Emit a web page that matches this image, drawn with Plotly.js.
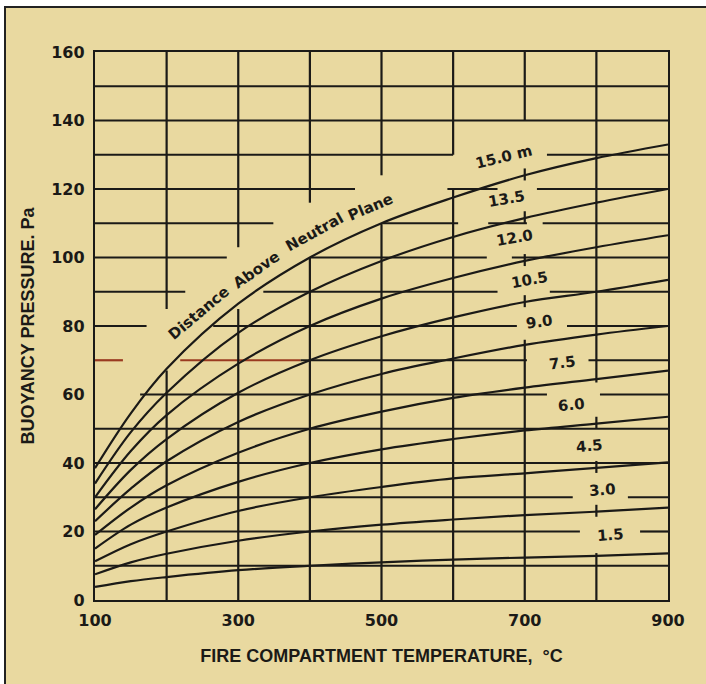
<!DOCTYPE html>
<html><head><meta charset="utf-8">
<script src="https://cdn.plot.ly/plotly-3.0.1.min.js"></script>
<style>
html,body{margin:0;padding:0;background:#fff;width:706px;height:684px;overflow:hidden}
#frame{position:absolute;left:4px;top:6px;width:702px;height:678px;border-left:2px solid #222;border-top:2px solid #222;box-sizing:border-box;background:#E9D9A0}
#chart{width:700px;height:676px}
</style></head><body><div id="frame"><div id="chart"></div></div>
<script>
// ---- data ----
const temps = [100, 150, 200, 300, 400, 500, 600, 700, 800, 900];   // °C
const heightLabels = ['1.5', '3.0', '4.5', '6.0', '7.5', '9.0', '10.5', '12.0', '13.5', '15.0 m'];
const p1_5  = [3.8, 5.5, 6.7, 8.7, 10, 11, 11.8, 12.4, 12.9, 13.6];
const p3_0  = [7.5, 11, 13.5, 17.3, 20, 22, 23.5, 24.8, 25.8, 27];
const p4_5  = [11.3, 16.3, 20, 26, 30, 33, 35.5, 37, 38.6, 40.2];
const p6_0  = [15, 22, 27, 34.5, 40, 44, 47, 49.5, 51.5, 53.5];
const p7_5  = [19, 27, 33.5, 43, 50, 55, 59, 62, 64.5, 67];
const p9_0  = [23, 32.5, 40.5, 52, 60, 66, 70.5, 74.5, 77.5, 80];
const p10_5 = [26.5, 38, 47, 60.5, 70, 77, 82.5, 87, 90, 93.5];
const p12_0 = [30, 43.5, 54, 69, 80, 88, 94, 99, 103, 106.5];
const p13_5 = [34, 49, 60.5, 78, 90, 99, 106, 111.5, 116, 120];
const p15_0 = [38.5, 54.5, 67.5, 86.5, 100, 110, 117.5, 124, 129, 133];
const xTickVals = [100, 300, 500, 700, 900];
const yTickVals = [0, 20, 40, 60, 80, 100, 120, 140, 160];
const xTitle = 'FIRE COMPARTMENT TEMPERATURE,  °C';
const yTitle = 'BUOYANCY PRESSURE. Pa';
const noteWords = ['Distance', 'Above', 'Neutral', 'Plane'];

const series = [p1_5, p3_0, p4_5, p6_0, p7_5, p9_0, p10_5, p12_0, p13_5, p15_0];

// ---- styling / layout helpers ----
const INK = '#1b1a17';
const LW = 2.2;
const tickFont = {family: 'DejaVu Sans', size: 16, color: INK, weight: 'bold'};
const labelFont = {family: 'DejaVu Sans', size: 15, color: INK, weight: 'bold'};
const noteFont = {family: 'DejaVu Sans', size: 15, color: INK, weight: 'bold'};
const titleFont = {family: 'Liberation Sans', size: 18, color: INK, weight: 'bold'};

// broken gridlines of the original drawing (value, [from,to] segments)
const hGrid = [
  [150, [[100, 900]]], [140, [[100, 900]]],
  [130, [[100, 600], [731, 900]]],
  [120, [[100, 463], [592, 662], [717, 900]]],
  [110, [[100, 349], [502, 607], [649, 703], [725, 900]]],
  [100, [[100, 284], [400, 647], [682, 900]]],
  [90,  [[100, 226], [335, 662], [735, 900]]],
  [80,  [[100, 172], [265, 689], [759, 900]]],
  [70,  [[100, 139, 'r'], [219, 387, 'r'], [387, 703], [789, 900]]],
  [60,  [[163, 731], [805, 900]]],
  [50,  [[100, 900]]], [40, [[100, 900]]],
  [30,  [[100, 767], [844, 900]]],
  [20,  [[100, 777], [861, 900]]],
  [10,  [[100, 900]]]
];
const vGrid = [
  [200, [[0, 67], [85, 160]]],
  [300, [[0, 85], [103, 160]]],
  [400, [[0, 100], [116, 160]]],
  [500, [[0, 110], [124, 160]]],
  [600, [[0, 120], [130, 160]]],
  [700, [[0, 76], [140, 160]]],
  [800, [[0, 13.7], [63.5, 160]]]
];

const shapes = [];
hGrid.forEach(([v, segs]) => segs.forEach(s => shapes.push({
  type: 'line', xref: 'x', yref: 'y', x0: s[0], x1: s[1], y0: v, y1: v, layer: 'below',
  line: {color: s[2] === 'r' ? '#9a3a20' : INK, width: LW}
})));
vGrid.forEach(([v, segs]) => segs.forEach(s => shapes.push({
  type: 'line', xref: 'x', yref: 'y', x0: v, x1: v, y0: s[0], y1: s[1], layer: 'below',
  line: {color: INK, width: LW}
})));
// short cross-ticks where curves cross the broken verticals
const i700 = temps.indexOf(700), i800 = temps.indexOf(800);
[p10_5, p12_0, p13_5, p15_0].forEach(arr => shapes.push({
  type: 'line', xref: 'x', yref: 'y', x0: 700, x1: 700, y0: arr[i700] - 1.5, y1: arr[i700] + 2,
  line: {color: INK, width: LW}
}));
[p3_0, p4_5, p6_0].forEach(arr => shapes.push({
  type: 'line', xref: 'x', yref: 'y', x0: 800, x1: 800, y0: arr[i800] - 1.5, y1: arr[i800] + 2,
  line: {color: INK, width: LW}
}));

const traces = series.map((arr, i) => ({
  type: 'scatter', mode: 'lines', x: temps, y: arr, name: heightLabels[i],
  line: {color: INK, width: LW, shape: 'spline', smoothing: 1}, hoverinfo: 'skip'
}));

// label positions (data coords) and tilt
const labelPos = [
  [820, 19, -4], [808, 32.1, -4], [790, 45, -5], [765, 56.9, -6], [752, 69.2, -7],
  [721, 81.2, -8], [707, 93.4, -10], [685, 105.7, -10], [674, 117.1, -10], [671, 129.3, -14]
];
const annotations = heightLabels.map((t, i) => ({
  text: t, x: labelPos[i][0], y: labelPos[i][1], xref: 'x', yref: 'y',
  textangle: labelPos[i][2], showarrow: false, font: labelFont,
  xanchor: 'center', yanchor: 'middle'
}));
const notePos = [[245, 83.8, -40], [325, 96.4, -35], [407, 107.4, -29], [485, 114.7, -23]];
noteWords.forEach((w, i) => annotations.push({
  text: w, x: notePos[i][0], y: notePos[i][1], xref: 'x', yref: 'y',
  textangle: notePos[i][2], showarrow: false, font: noteFont,
  xanchor: 'center', yanchor: 'middle'
}));

const layout = {
  width: 700, height: 676,
  margin: {l: 89, r: 38, t: 44, b: 84},
  paper_bgcolor: 'rgba(0,0,0,0)', plot_bgcolor: 'rgba(0,0,0,0)',
  showlegend: false,
  xaxis: {
    range: [100, 900], tickvals: xTickVals, ticktext: xTickVals.map(String),
    showgrid: false, zeroline: false, showline: true, mirror: true,
    linecolor: INK, linewidth: LW, ticks: '', tickfont: tickFont, ticklabelstandoff: 5,
    title: {text: xTitle, font: titleFont, standoff: 20}
  },
  yaxis: {
    range: [0, 160], tickvals: yTickVals, ticktext: yTickVals.map(String),
    showgrid: false, zeroline: false, showline: true, mirror: true,
    linecolor: INK, linewidth: LW, ticks: '', tickfont: tickFont, ticklabelstandoff: 5,
    title: {text: yTitle, font: titleFont, standoff: 12}
  },
  shapes: shapes, annotations: annotations
};

Plotly.newPlot('chart', traces, layout, {displayModeBar: false, staticPlot: true});
</script></body></html>
